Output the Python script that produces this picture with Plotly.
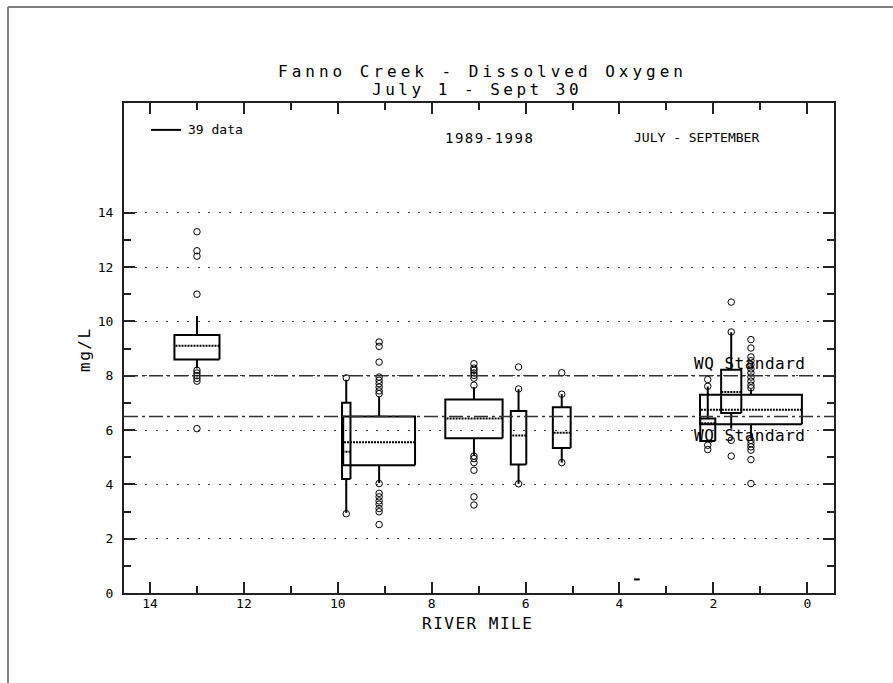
import plotly.graph_objects as go

# ---------------- data ----------------
box_mile = [13.0, 9.82, 9.12, 7.10, 6.15, 5.23, 2.12, 1.62, 1.20]
box_width = [0.96, 0.18, 1.53, 1.22, 0.33, 0.38, 0.32, 0.43, 2.17]
box_q1 = [8.60, 4.20, 4.70, 5.70, 4.73, 5.34, 5.60, 6.63, 6.21]
box_med = [9.10, 5.20, 5.55, 6.42, 5.80, 5.90, 6.25, 7.40, 6.75]
box_q3 = [9.50, 7.00, 6.50, 7.12, 6.70, 6.84, 6.42, 8.22, 7.30]
box_wlo = [8.27, 2.95, 4.05, 5.07, 4.02, 4.80, 5.60, 6.05, 5.69]
box_whi = [10.2, 7.85, 7.22, 7.58, 7.50, 7.32, 7.60, 9.60, 7.50]
box_outliers = [
    [13.3, 12.6, 12.4, 11.0, 8.2, 8.1, 8.0, 7.9, 7.8, 6.05],
    [7.92, 2.92],
    [9.24, 9.08, 8.5, 7.95, 7.83, 7.71, 7.58, 7.44, 7.34,
     4.03, 3.67, 3.54, 3.39, 3.27, 3.11, 2.99, 2.52],
    [8.44, 8.28, 8.2, 8.1, 8.01, 7.91, 7.65, 5.04, 4.95, 4.8, 4.52, 3.54, 3.24],
    [8.32, 7.51, 4.02],
    [8.11, 7.32, 4.8],
    [7.86, 7.61, 5.44, 5.28],
    [10.71, 9.61, 5.62, 5.04],
    [9.33, 9.02, 8.69, 8.55, 8.4, 8.25, 8.1, 7.95, 7.8, 7.65, 7.55,
     5.62, 5.5, 5.38, 5.26, 4.91, 4.03],
]
stray_mile = [3.63]
stray_value = [0.5]

standards = [8.0, 6.5]
standard_label = "WQ Standard"
standard_label_y = [8.46, 5.81]

x_ticks = [0, 2, 4, 6, 8, 10, 12, 14]
x_minor = [1, 3, 5, 7, 9, 11, 13]
y_ticks = [0, 2, 4, 6, 8, 10, 12, 14]
y_minor = [1, 3, 5, 7, 9, 11, 13]

title1 = "Fanno Creek - Dissolved Oxygen"
title2 = "July 1 - Sept 30"
years_text = "1989-1998"
season_text = "JULY - SEPTEMBER"
legend_text = "39 data"

FONT = "DejaVu Sans Mono"

# ---------------- geometry ----------------
W, H = 893, 683
L, R, T, B = 124, 59, 103, 90
PW, PH = W - L - R, H - T - B


def px(xp):
    return (xp - L) / PW


def py(yp):
    return (H - B - yp) / PH


# ---------------- traces ----------------
rx, ry, wx, wy, mx, my, ox, oy = [], [], [], [], [], [], [], []
for m, w, q1, md, q3, lo, hi, outs in zip(box_mile, box_width, box_q1, box_med,
                                          box_q3, box_wlo, box_whi, box_outliers):
    a, b = m - w / 2, m + w / 2
    rx += [a, b, b, a, a, None]
    ry += [q1, q1, q3, q3, q1, None]
    wx += [m, m, None, m, m, None]
    wy += [q3, hi, None, q1, lo, None]
    mx += [a, b, None]
    my += [md, md, None]
    ox += [m] * len(outs)
    oy += outs

fig = go.Figure()
fig.add_trace(go.Scatter(x=wx, y=wy, mode="lines", line=dict(color="black", width=2),
                         hoverinfo="skip", showlegend=False))
fig.add_trace(go.Scatter(x=rx, y=ry, mode="lines", line=dict(color="black", width=2),
                         hoverinfo="skip", showlegend=False))
fig.add_trace(go.Scatter(x=mx, y=my, mode="lines",
                         line=dict(color="black", width=2, dash="2px,1px"),
                         hoverinfo="skip", showlegend=False))
fig.add_trace(go.Scatter(x=ox, y=oy, mode="markers",
                         marker=dict(symbol="circle-open", size=6.5, color="black",
                                     line=dict(width=1, color="black")),
                         showlegend=False))
fig.add_trace(go.Scatter(x=stray_mile, y=stray_value, mode="markers",
                         marker=dict(symbol="line-ew", size=4,
                                     line=dict(width=2, color="black")),
                         showlegend=False))
# legend sample line
fig.add_trace(go.Scatter(x=[13.98, 13.34], y=[17.05, 17.05], mode="lines",
                         line=dict(color="black", width=2), showlegend=False,
                         hoverinfo="skip"))

# standards (dash-dot lines)
for s in standards:
    fig.add_shape(type="line", xref="paper", x0=0, x1=1, yref="y", y0=s, y1=s,
                  line=dict(color="#333", width=1.5, dash="14px,4px,3px,4px"))

# outer page border (top and left)
fig.add_shape(type="line", xref="paper", yref="paper", x0=px(8), x1=px(893),
              y0=py(7), y1=py(7), line=dict(color="#808080", width=2))
fig.add_shape(type="line", xref="paper", yref="paper", x0=px(8), x1=px(8),
              y0=py(7), y1=py(683), line=dict(color="#808080", width=2))

ann = []
ann.append(dict(text=f'<span style="letter-spacing:4px">{title1}</span>',
                xref="paper", yref="paper", x=px(482), y=py(72),
                xanchor="center", yanchor="middle", showarrow=False,
                font=dict(family=FONT, size=16, color="black")))
ann.append(dict(text=f'<span style="letter-spacing:3.5px">{title2}</span>',
                xref="paper", yref="paper", x=px(477), y=py(90),
                xanchor="center", yanchor="middle", showarrow=False,
                font=dict(family=FONT, size=16, color="black")))
ann.append(dict(text=f'<span style="letter-spacing:1.5px">{years_text}</span>',
                xref="x", yref="y", x=6.76, y=16.77,
                xanchor="center", yanchor="middle", showarrow=False,
                font=dict(family=FONT, size=14, color="black")))
ann.append(dict(text=season_text, xref="x", yref="y", x=2.35, y=16.77,
                xanchor="center", yanchor="middle", showarrow=False,
                font=dict(family=FONT, size=13, color="black")))
ann.append(dict(text=legend_text, xref="x", yref="y", x=13.23, y=17.05,
                xanchor="left", yanchor="middle", showarrow=False,
                font=dict(family=FONT, size=13, color="black")))
for yy in standard_label_y:
    ann.append(dict(text=f'<span style="letter-spacing:0.5px">{standard_label}</span>',
                    xref="x", yref="y", x=2.456, y=yy,
                    xanchor="left", yanchor="middle", showarrow=False,
                    font=dict(family=FONT, size=16, color="black")))
ann.append(dict(text=f'<span style="letter-spacing:1.5px">RIVER MILE</span>',
                xref="paper", yref="paper", x=px(477), y=py(623),
                xanchor="center", yanchor="middle", showarrow=False,
                font=dict(family=FONT, size=16, color="black")))
ann.append(dict(text=f'<span style="letter-spacing:1.5px">mg/L</span>',
                xref="paper", yref="paper", x=px(84), y=py(350), textangle=-90,
                xanchor="center", yanchor="middle", showarrow=False,
                font=dict(family=FONT, size=16, color="black")))

fig.update_layout(
    width=W, height=H, autosize=False,
    margin=dict(l=L, r=R, t=T, b=B, pad=0),
    paper_bgcolor="white", plot_bgcolor="white",
    showlegend=False, annotations=ann,
    font=dict(family=FONT, size=13, color="black"),
)
fig.update_xaxes(
    range=[14.554, -0.569], tickvals=x_ticks, ticktext=[str(v) for v in x_ticks],
    ticks="inside", ticklen=11, tickwidth=1.5, tickcolor="#222",
    showline=True, linecolor="#222", linewidth=2, mirror="allticks",
    showgrid=False, zeroline=False,
    minor=dict(tickvals=x_minor, ticks="inside", ticklen=7, tickwidth=1.5, tickcolor="#222"),
    tickfont=dict(family=FONT, size=13, color="black"), ticklabelstandoff=-3,
)
fig.update_yaxes(
    range=[0, 18.04], tickvals=y_ticks, ticktext=[str(v) for v in y_ticks],
    ticks="inside", ticklen=11, tickwidth=1.5, tickcolor="#222",
    showline=True, linecolor="#222", linewidth=2, mirror="allticks",
    showgrid=True, gridcolor="#444", gridwidth=1, griddash="2px,8.5px",
    zeroline=False,
    minor=dict(tickvals=y_minor, ticks="inside", ticklen=7, tickwidth=1.5, tickcolor="#222"),
    tickfont=dict(family=FONT, size=13, color="black"), ticklabelstandoff=6,
)

fig.write_html("out.html")
